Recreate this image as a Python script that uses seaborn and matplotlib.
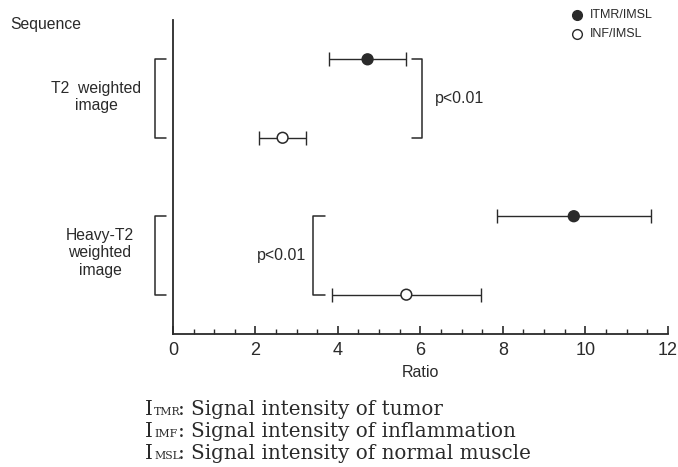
import numpy as np
import pandas as pd
import matplotlib
matplotlib.use("Agg")
import matplotlib.pyplot as plt
import seaborn as sns
from matplotlib.ticker import MultipleLocator

# values (mean ratio and SD)
sequences = ["T2 weighted image", "Heavy-T2 weighted image"]
tmr_mean = [4.72, 9.72]
tmr_sd = [0.94, 1.86]
inf_mean = [2.66, 5.66]
inf_sd = [0.57, 1.8]

rows = []
for i, seq in enumerate(sequences):
    rows.append({"seq": seq, "ratio": "ITMR/IMSL", "mean": tmr_mean[i], "sd": tmr_sd[i], "pos": 2 * i})
    rows.append({"seq": seq, "ratio": "INF/IMSL", "mean": inf_mean[i], "sd": inf_sd[i], "pos": 2 * i + 1})
df = pd.DataFrame(rows)

sns.set_theme(style="ticks")
plt.rcParams["font.family"] = ["Liberation Sans", "DejaVu Sans"]
ink = "#2a2a2a"

fig = plt.figure(figsize=(6.78, 4.67), dpi=100)
ax = fig.add_axes([0.255, 0.285, 0.730, 0.672])

# error bars first, then the markers through seaborn
ax.errorbar(df["mean"], df["pos"], xerr=df["sd"], fmt="none", ecolor=ink,
            elinewidth=1.0, capsize=5, capthick=1.0, zorder=2)
sns.scatterplot(data=df, x="mean", y="pos", hue="ratio", style="ratio",
                palette={"ITMR/IMSL": ink, "INF/IMSL": "white"},
                markers={"ITMR/IMSL": "o", "INF/IMSL": "o"},
                s=60, edgecolor=ink, linewidth=1.1, legend=False, ax=ax, zorder=3)

ax.set_xlim(0, 12)
ax.set_ylim(3.5, -0.5)
ax.xaxis.set_major_locator(MultipleLocator(2))
ax.xaxis.set_minor_locator(MultipleLocator(0.5))
ax.tick_params(axis="x", which="major", direction="in", length=6, width=1.2,
               color=ink, labelsize=13, labelcolor=ink, pad=6)
ax.tick_params(axis="x", which="minor", direction="in", length=3.5, width=1.0, color=ink)
ax.set_yticks([])
for side in ["top", "right"]:
    ax.spines[side].set_visible(False)
for side in ["left", "bottom"]:
    ax.spines[side].set_color(ink)
    ax.spines[side].set_linewidth(1.3)
ax.set_xlabel("Ratio", fontsize=11.5, color=ink, labelpad=4)
ax.set_ylabel("")

def bracket(x0, x1, y0, y1):
    ax.plot([x0, x1, x1, x0], [y0, y0, y1, y1], color=ink, lw=1.1, clip_on=False)

# sequence brackets left of the axis
bracket(-0.17, -0.43, 0, 1)
bracket(-0.17, -0.43, 2, 3)

# significance brackets
bracket(5.79, 6.05, 0, 1)
ax.text(6.35, 0.5, "p<0.01", fontsize=11.5, color=ink, va="center", ha="left")
bracket(3.68, 3.39, 2, 3)
ax.text(3.24, 2.5, "p<0.01", fontsize=11.5, color=ink, va="center", ha="right")

# left labels
fig.text(10 / 678, 1 - 25 / 467, "Sequence", fontsize=11.3, color=ink, va="center")
fig.text(96 / 678, 1 - 97 / 467, "T2  weighted\nimage", fontsize=11.3, color=ink,
         ha="center", va="center", linespacing=1.2)
fig.text(100 / 678, 1 - 253 / 467, "Heavy-T2\nweighted\nimage", fontsize=11.3, color=ink,
         ha="center", va="center", linespacing=1.2)

# legend drawn by hand in figure coords
fig.lines.append(plt.Line2D([577 / 678], [1 - 15 / 467], marker="o", ms=7, color=ink,
                            mfc=ink, mec=ink, transform=fig.transFigure))
fig.lines.append(plt.Line2D([577 / 678], [1 - 34 / 467], marker="o", ms=7, color=ink,
                            mfc="white", mec=ink, transform=fig.transFigure))
fig.text(590 / 678, 1 - 15 / 467, "ITMR/IMSL", fontsize=9, color=ink, va="center")
fig.text(590 / 678, 1 - 34 / 467, "INF/IMSL", fontsize=9, color=ink, va="center")

# footnote: big I, small-caps subscript, then the description
note_subs = ["TMR", "IMF", "MSL"]
note_desc = [": Signal intensity of tumor",
             ": Signal intensity of inflammation",
             ": Signal intensity of normal muscle"]
for k in range(3):
    yy = 1 - (415 + 22 * k) / 467
    fig.text(145 / 678, yy, "I", fontsize=14.3, color=ink, va="baseline",
             family="DejaVu Serif")
    fig.text(154 / 678, yy, note_subs[k], fontsize=7.8, color=ink, va="baseline",
             family="DejaVu Serif")
    fig.text(178 / 678, yy, note_desc[k], fontsize=14.3, color=ink, va="baseline",
             family="DejaVu Serif")

fig.savefig("out.png", dpi=100)
